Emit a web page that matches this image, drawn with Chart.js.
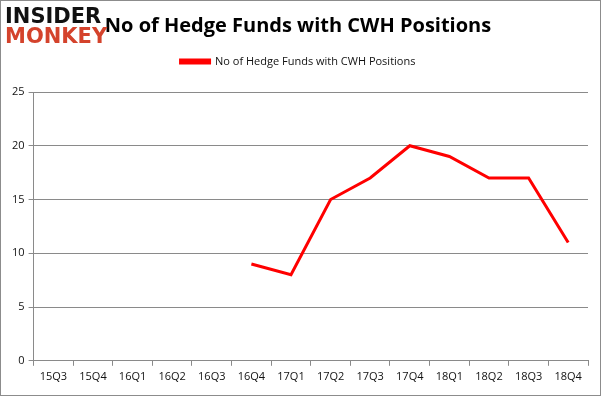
<!DOCTYPE html>
<html>
<head>
<meta charset="utf-8">
<script src="https://cdn.jsdelivr.net/npm/chart.js@4.4.0/dist/chart.umd.min.js"></script>
<style>
  html, body { margin: 0; padding: 0; background: #fff; }
  #wrap { position: relative; width: 601px; height: 396px; box-sizing: border-box; border: 1px solid #8c8c8c; }
  #logo { position: absolute; left: 4px; top: 5px; font-family: "DejaVu Sans"; font-weight: bold; line-height: 20px; letter-spacing: 0px; }
  #logo .a { color: #111; font-size: 21px; }
  #logo .b { color: #d4432c; font-size: 21px; }
</style>
</head>
<body>
<div id="wrap">
  <canvas id="lineChart" width="599" height="394"></canvas>
  <div id="logo"><div class="a">INSIDER</div><div class="b">MONKEY</div></div>
</div>
<script>
  // quarters on the x axis
  var quarters = ["15Q3", "15Q4", "16Q1", "16Q2", "16Q3", "16Q4", "17Q1", "17Q2", "17Q3", "17Q4", "18Q1", "18Q2", "18Q3", "18Q4"];
  // hedge fund counts (no data before 16Q4)
  var fundCounts = [null, null, null, null, null, 9, 8, 15, 17, 20, 19, 17, 17, 11];
  var yTicks = [0, 5, 10, 15, 20, 25];

  var gridColor = "#8a8a8a";

  // extra room under the legend
  var legendGap = {
    id: 'legendGap',
    beforeInit: function (chart) {
      var fit = chart.legend.fit;
      chart.legend.fit = function () {
        fit.call(this);
        this.height += 15;
      };
    }
  };

  var config = {
    type: 'line',
    data: {
      labels: quarters,
      datasets: [{
        label: 'No of Hedge Funds with CWH Positions',
        data: fundCounts,
        borderColor: "#ff0000",
        backgroundColor: "#ff0000",
        borderWidth: 3,
        pointRadius: 0,
        tension: 0,
        spanGaps: false
      }]
    },
    options: {
      responsive: false,
      animation: false,
      layout: { padding: { left: 7, right: 12, top: 0, bottom: 8 } },
      plugins: {
        title: {
          display: true,
          text: 'No of Hedge Funds with CWH Positions',
          color: '#000',
          font: { family: 'Open Sans', size: 20, weight: 'bold' },
          padding: { top: 13, bottom: 8 }
        },
        legend: {
          display: true,
          position: 'top',
          labels: {
            color: '#111',
            font: { family: 'Open Sans', size: 11 },
            boxWidth: 29,
            boxHeight: 3,
            padding: 10
          }
        },
        tooltip: { enabled: false }
      },
      scales: {
        x: {
          offset: true,
          grid: { display: true, drawOnChartArea: false, offset: true, color: gridColor, tickLength: 5 },
          border: { color: gridColor },
          ticks: { color: '#111', font: { family: 'Open Sans', size: 11 }, maxRotation: 0, padding: 4 }
        },
        y: {
          min: 0,
          max: 25,
          afterBuildTicks: function (axis) {
            axis.ticks = yTicks.map(function (v) { return { value: v }; });
          },
          grid: { color: gridColor, tickLength: 5 },
          border: { color: gridColor },
          ticks: { color: '#111', font: { family: 'Open Sans', size: 11 }, padding: 4 }
        }
      }
    },
    plugins: [legendGap]
  };

  var lineChartCanvas = document.getElementById("lineChart").getContext("2d");
  var lineChart = new Chart(lineChartCanvas, config);
</script>
</body>
</html>
